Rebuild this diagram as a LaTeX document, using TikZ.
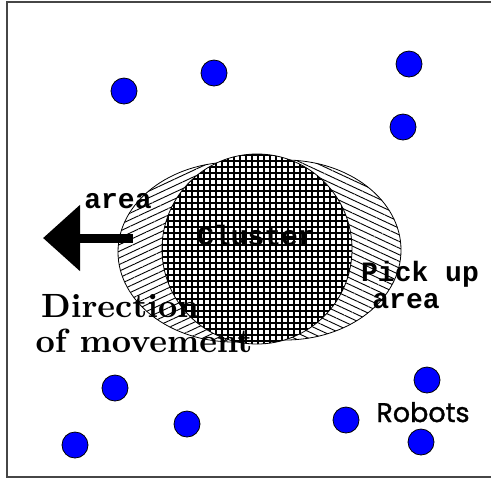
\documentclass[tikz,border=0pt]{standalone}
\usepackage{fontspec}
\setsansfont{Poppins}
\newfontfamily\monofam{Liberation Mono}
\newfontfamily\serbf{lmroman10-bold.otf}
\newfontfamily\robfam{Poppins}[FakeBold=1.3]
\usepackage{xcolor}
\usetikzlibrary{arrows.meta, patterns.meta}
\definecolor{robotB}{RGB}{0,0,255}
\definecolor{frameG}{RGB}{70,70,70}
\tikzset{robot/.style={circle, draw=black, thin, fill=robotB, minimum size=13pt, inner sep=0pt},
  monolabel/.style={font=\monofam\bfseries\fontsize{14}{14}\selectfont, inner sep=0pt, anchor=base},
  serlabel/.style={font=\serbf\fontsize{16.8}{16.8}\selectfont, inner sep=0pt, anchor=base},
  sanslabel/.style={font=\robfam\fontsize{13.5}{13.5}\selectfont, inner sep=0pt, anchor=base},
  zone/.style={draw=black, thin, preaction={fill=white}}}

\begin{document}
\begin{tikzpicture}[x=0.5pt, y=-0.5pt]
\useasboundingbox (0,0) rectangle (491,479);
% outer frame
\draw[frameG, semithick] (7,2) rectangle (500,477);
% left and right zones, then the cluster on top
\draw[zone, pattern={Lines[angle=25, distance=3pt, line width=0.45pt]}] (234,252) ellipse [x radius=116, y radius=90];
\draw[zone, pattern={Lines[angle=-25, distance=3pt, line width=0.45pt]}] (285,250) ellipse [x radius=116, y radius=90];
\draw[zone, pattern={Hatch[angle=0, distance=3pt, line width=0.65pt]}] (257,249) circle [radius=95];
% robots
\node[robot] (r1) at (124,91) {};
\node[robot] (r2) at (214,73) {};
\node[robot] (r3) at (409,64) {};
\node[robot] (r4) at (403,127) {};
\node[robot] (r5) at (115,388) {};
\node[robot] (r6) at (187,424) {};
\node[robot] (r7) at (75,445) {};
\node[robot] (r8) at (346,420) {};
\node[robot] (r9) at (427,380) {};
\node[robot] (r10) at (421,442) {};
% direction arrow
\coordinate (tail) at (133,238);
\coordinate (tip) at (43,238);
\draw[line width=4.5pt, -{Triangle[length=18.5pt, width=32pt]}] (tail) -- (tip);
% labels
\node[monolabel] (areaL) at (118,208) {area};
\node[monolabel] (cluster) at (256,245) {Cluster};
\node[monolabel] (pickup) at (420,281) {Pick up};
\node[monolabel] (pickarea) at (406,308) {area};
\node[serlabel] (dir) at (120,317) {Direction};
\node[serlabel] (move) at (144,352) {of movement};
\node[sanslabel] (robots) at (423,422) {Robots};
\end{tikzpicture}
\end{document}
